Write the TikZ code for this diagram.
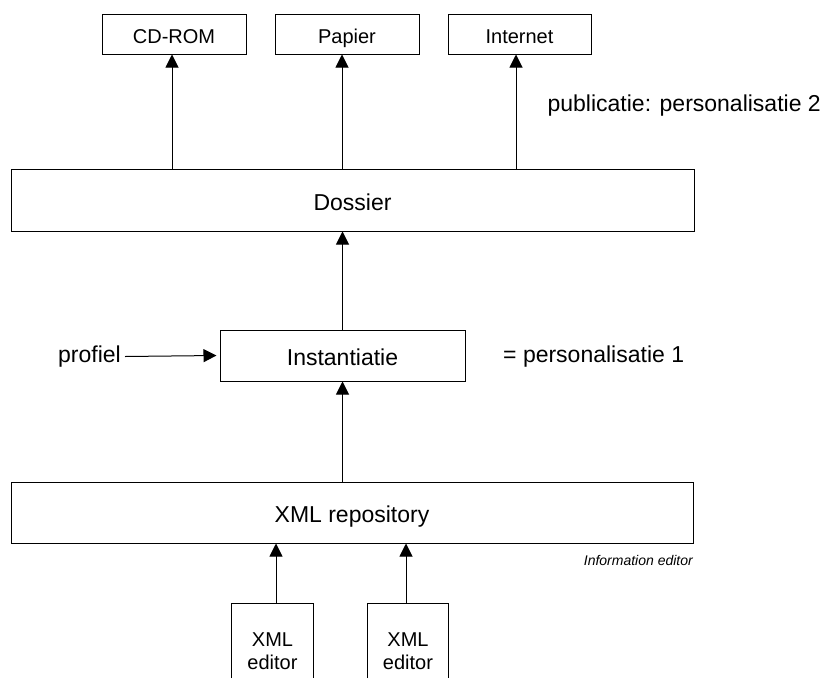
\documentclass[tikz,border=0pt]{standalone}
\usepackage{fontspec}
\setmainfont{Liberation Sans}
\usetikzlibrary{arrows.meta}
\begin{document}
\begin{tikzpicture}[x=1pt,y=-1pt,
  box/.style={draw=black,line width=1pt,rectangle,inner sep=0pt,text depth=0pt},
  big/.style={font=\fontsize{23}{27}\selectfont},
  bigbox/.style={box,big,text height=20.5pt},
  small/.style={font=\fontsize{20}{23}\selectfont},
  smallbox/.style={box,small,text height=18pt},
  lbl/.style={inner sep=0pt},
  arr/.style={line width=1pt,-{Triangle[length=13pt,width=13pt]}}]
\useasboundingbox[fill=white] (0,0) rectangle (822,691);
% top boxes
\node[smallbox,minimum width=144pt,minimum height=40pt] (cd) at (174,34) {CD-ROM};
\node[smallbox,minimum width=144pt,minimum height=40pt] (pap) at (347,34) {Papier};
\node[smallbox,minimum width=143pt,minimum height=40pt] (inet) at (519.5,34) {Internet};
\node[lbl,big,anchor=east] (pub) at (821,106) {publicatie: personalisatie 2};
% dossier
\node[bigbox,minimum width=683pt,minimum height=62pt] (dos) at (352.5,200) {Dossier};
\draw[arr] ([xshift=-2pt]cd.south |- dos.north) -- ([xshift=-2pt]cd.south);
\draw[arr] ([xshift=-5pt]pap.south |- dos.north) -- ([xshift=-5pt]pap.south);
\draw[arr] ([xshift=-3.5pt]inet.south |- dos.north) -- ([xshift=-3.5pt]inet.south);
% instantiatie
\node[bigbox,minimum width=245pt,minimum height=51pt] (inst) at (342.5,355.5) {Instantiatie};
\node[lbl,big,anchor=east] (prof) at (121,356.5) {profiel};
\node[lbl,big,anchor=west] (pers) at (503,356.5) {= personalisatie 1};
\draw[arr] (inst.north) -- (inst.north |- dos.south);
\draw[arr] ([xshift=4pt]prof.east) -- ([xshift=-3pt]inst.west);
% repository
\node[bigbox,minimum width=682pt,minimum height=61pt] (repo) at (352,512.5) {XML repository};
\draw[arr] (inst.south |- repo.north) -- (inst.south);
\node[lbl,anchor=east,font=\fontsize{14}{16}\selectfont\itshape] (ie) at (693,560) {Information editor};
% editors (open at bottom, cut by the page)
\node[small,align=center,inner sep=0pt,minimum width=81pt,minimum height=94pt] (e1) at (272.5,651) {XML\\editor};
\node[small,align=center,inner sep=0pt,minimum width=80pt,minimum height=94pt] (e2) at (408,651) {XML\\editor};
\draw[line width=1pt] ([yshift=20pt]e1.south west) -- (e1.north west) -- (e1.north east) -- ([yshift=20pt]e1.south east);
\draw[line width=1pt] ([yshift=20pt]e2.south west) -- (e2.north west) -- (e2.north east) -- ([yshift=20pt]e2.south east);
\draw[arr] ([xshift=3.5pt]e1.north) -- ([xshift=3.5pt]e1.north |- repo.south);
\draw[arr] ([xshift=-2pt]e2.north) -- ([xshift=-2pt]e2.north |- repo.south);
\end{tikzpicture}
\end{document}
